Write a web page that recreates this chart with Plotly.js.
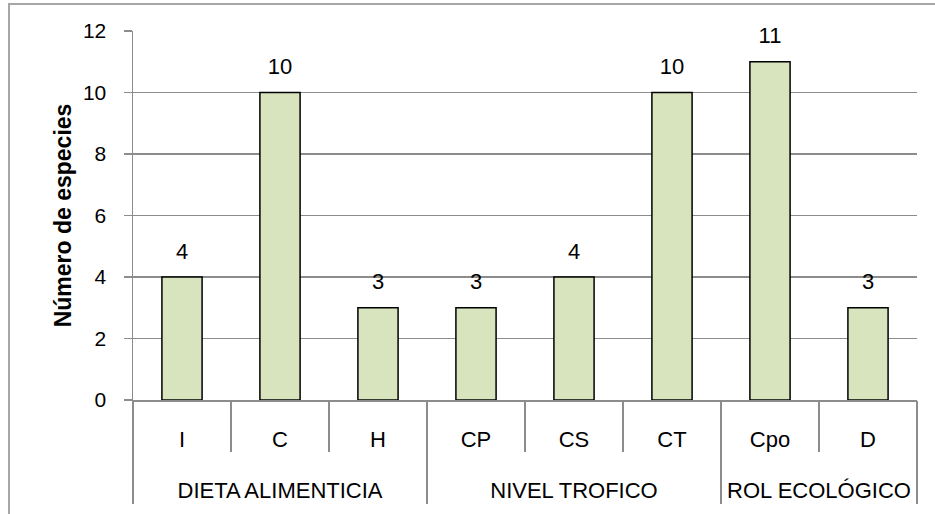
<!DOCTYPE html>
<html>
<head>
<meta charset="utf-8">
<script src="https://cdn.plot.ly/plotly-3.0.1.min.js"></script>
<style>
  html, body { margin: 0; padding: 0; background: #fff; }
  #wrap { position: relative; width: 935px; height: 514px; overflow: hidden; }
  #chart { width: 935px; height: 514px; }
  #frame { position: absolute; left: 8px; top: 3px; width: 940px; height: 520px;
           border-left: 2px solid #a6a6a6; border-top: 2px solid #a6a6a6; pointer-events: none; }
</style>
</head>
<body>
<div id="wrap">
  <div id="chart"></div>
  <div id="frame"></div>
</div>
<script>
// ---- data ----
const categories = ['I', 'C', 'H', 'CP', 'CS', 'CT', 'Cpo', 'D'];
const categoryGroups = ['DIETA ALIMENTICIA', 'DIETA ALIMENTICIA', 'DIETA ALIMENTICIA',
                        'NIVEL TROFICO', 'NIVEL TROFICO', 'NIVEL TROFICO',
                        'ROL ECOLÓGICO', 'ROL ECOLÓGICO'];
const species = [4, 10, 3, 3, 4, 10, 11, 3];
const yTickValues = [0, 2, 4, 6, 8, 10, 12];

// ---- derived axis helpers (from the category list) ----
const n = categories.length;
const boundaries = [];
for (let i = 0; i <= n; i++) boundaries.push(i - 0.5);
const groupNames = [];
const groupStart = [];
const groupEnd = [];
categoryGroups.forEach((g, i) => {
  if (groupNames.length === 0 || groupNames[groupNames.length - 1] !== g) {
    groupNames.push(g); groupStart.push(i); groupEnd.push(i);
  } else {
    groupEnd[groupEnd.length - 1] = i;
  }
});
const groupCenters = groupNames.map((g, k) => (groupStart[k] + groupEnd[k]) / 2);
const groupBounds = [-0.5].concat(groupEnd.map(e => e + 0.5));

const FONT = '"Liberation Sans", Arial, sans-serif';
const GRID = '#8c8c8c';
const range = [-0.5, n - 0.5];

// invisible helper traces so that the overlay label/separator axes get drawn
function helper(axis) {
  return {
    type: 'scatter', mode: 'none', xaxis: axis, yaxis: 'y',
    x: boundaries, y: boundaries.map(() => 0),
    hoverinfo: 'skip', showlegend: false
  };
}

const traces = [
  {
    type: 'bar',
    x: categories,
    y: species,
    marker: { color: '#d7e4bd', line: { color: '#000000', width: 1.5 } },
    hoverinfo: 'skip',
    showlegend: false
  },
  {
    type: 'scatter',
    mode: 'markers+text',
    x: categories,
    y: species,
    text: species.map(String),
    textposition: 'top center',
    textfont: { family: FONT, size: 22, color: '#000' },
    marker: { size: 19, opacity: 0 },
    hoverinfo: 'skip',
    showlegend: false,
    cliponaxis: false
  },
  helper('x2'),
  helper('x3'),
  helper('x4')
];

const layout = {
  width: 935,
  height: 514,
  margin: { l: 133, r: 18, t: 31, b: 114 },
  paper_bgcolor: '#ffffff',
  plot_bgcolor: '#ffffff',
  font: { family: FONT, size: 22, color: '#000' },
  bargap: 0.59,
  showlegend: false,
  xaxis: {
    type: 'category',
    range: range,
    showgrid: false,
    zeroline: false,
    showline: true,
    linecolor: GRID,
    linewidth: 1.5,
    ticks: '',
    ticklabelstandoff: 19,
    tickfont: { family: FONT, size: 22, color: '#000' },
    fixedrange: true
  },
  xaxis2: {
    overlaying: 'x', anchor: 'y', side: 'bottom',
    type: 'linear', range: range,
    tickmode: 'array', tickvals: boundaries,
    ticks: 'outside', ticklen: 51, tickcolor: GRID, tickwidth: 1.5,
    showticklabels: false, showgrid: false, zeroline: false, showline: false,
    fixedrange: true
  },
  xaxis3: {
    overlaying: 'x', anchor: 'y', side: 'bottom',
    type: 'linear', range: range,
    tickmode: 'array', tickvals: groupCenters, ticktext: groupNames,
    ticks: '', ticklabelstandoff: 75,
    tickfont: { family: FONT, size: 22, color: '#000' },
    showgrid: false, zeroline: false, showline: false,
    fixedrange: true
  },
  xaxis4: {
    overlaying: 'x', anchor: 'y', side: 'bottom',
    type: 'linear', range: range,
    tickmode: 'array', tickvals: groupBounds,
    ticks: 'outside', ticklen: 103, tickcolor: GRID, tickwidth: 1.5,
    showticklabels: false, showgrid: false, zeroline: false, showline: false,
    fixedrange: true
  },
  yaxis: {
    range: [0, 12],
    tickmode: 'array',
    tickvals: yTickValues,
    showgrid: true,
    gridcolor: GRID,
    gridwidth: 1.5,
    zeroline: false,
    showline: true,
    linecolor: GRID,
    linewidth: 1.5,
    ticks: 'outside',
    ticklen: 8,
    tickcolor: GRID,
    tickwidth: 1.5,
    ticklabelstandoff: 13,
    tickfont: { family: FONT, size: 21, color: '#000' },
    title: {
      text: 'Número de especies',
      font: { family: FONT, size: 23, color: '#000', weight: 'bold' },
      standoff: 5
    },
    fixedrange: true
  }
};

Plotly.newPlot('chart', traces, layout, { staticPlot: true, displayModeBar: false });
</script>
</body>
</html>
